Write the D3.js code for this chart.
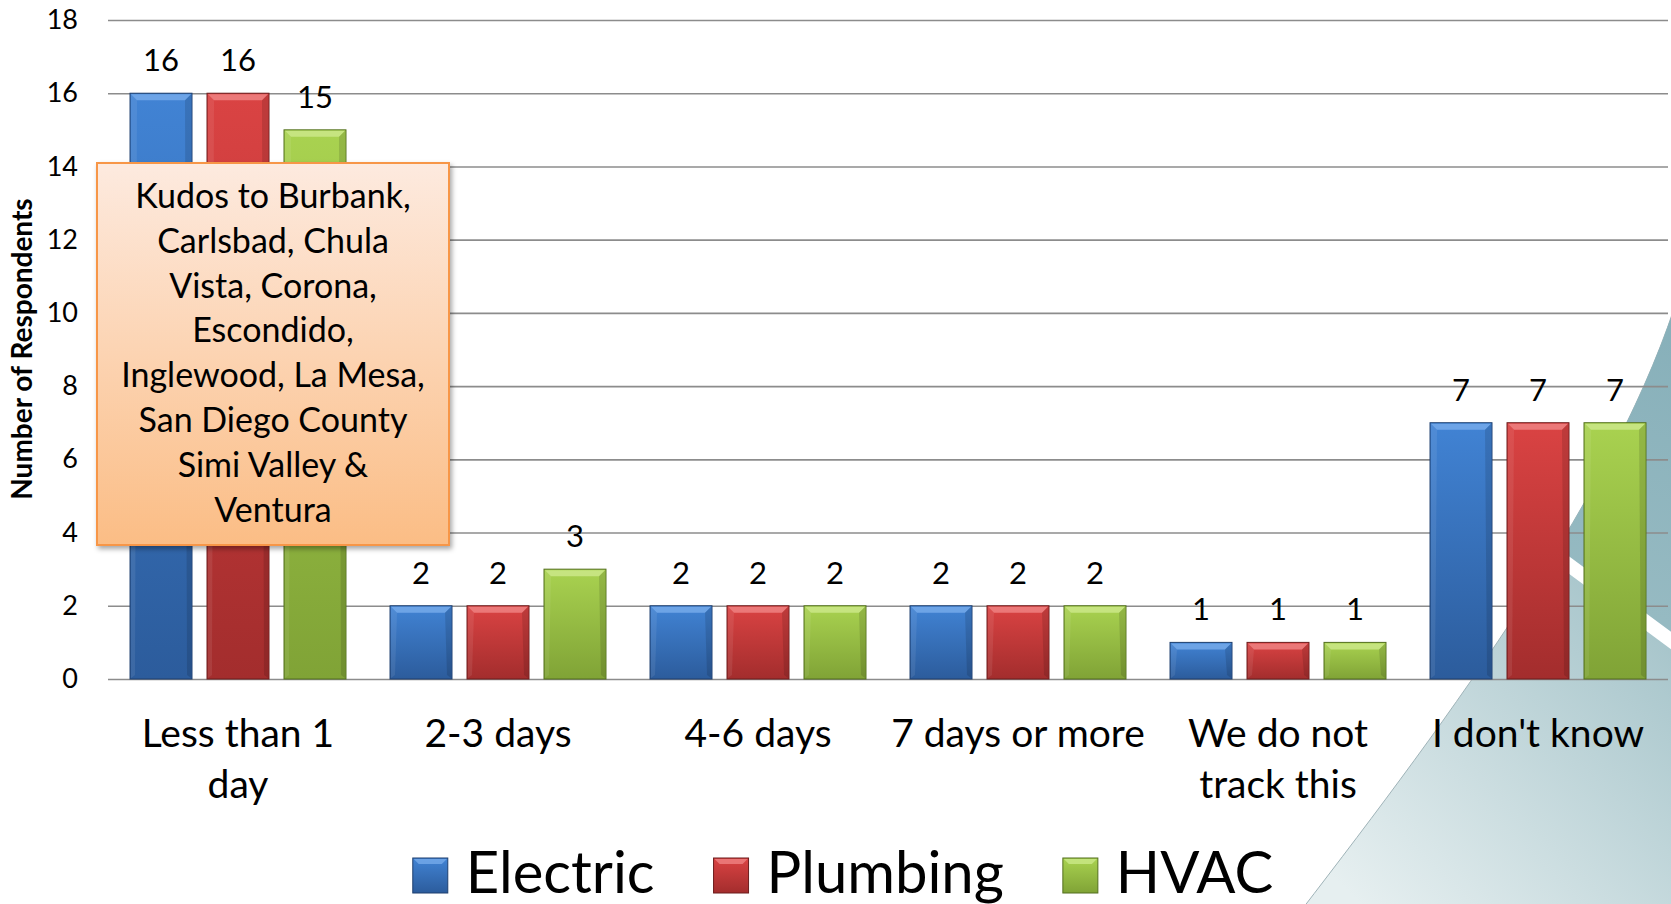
<!DOCTYPE html>
<html>
<head>
<meta charset="utf-8">
<script src="https://cdn.jsdelivr.net/npm/d3@7"></script>
<style>
  body { margin: 0; background: #fff; }
  svg { display: block; font-family: Lato, "Open Sans", sans-serif; }
</style>
</head>
<body>
<div class="bar-chart"></div>
<script>
// chart data
const categories = ["Less than 1 day", "2-3 days", "4-6 days", "7 days or more", "We do not track this", "I don't know"];
const categoryLines = [["Less than 1", "day"], ["2-3 days"], ["4-6 days"], ["7 days or more"], ["We do not", "track this"], ["I don't know"]];
const seriesNames = ["Electric", "Plumbing", "HVAC"];
const electric = [16, 2, 2, 2, 1, 7];
const plumbing = [16, 2, 2, 2, 1, 7];
const hvac = [15, 3, 2, 2, 1, 7];
const yTicks = [0, 2, 4, 6, 8, 10, 12, 14, 16, 18];
const noteLines = ["Kudos to Burbank,", "Carlsbad, Chula", "Vista, Corona,", "Escondido,", "Inglewood, La Mesa,", "San Diego County", "Simi Valley &", "Ventura"];

const seriesValues = { "Electric": electric, "Plumbing": plumbing, "HVAC": hvac };
const palette = {
  "Electric": { top: "#4183d4", bottom: "#2c5c9c", bevel: "#76aaea", stroke: "#1e3f6e" },
  "Plumbing": { top: "#da4343", bottom: "#a32d2d", bevel: "#ef8282", stroke: "#6c1d1d" },
  "HVAC": { top: "#a9d250", bottom: "#80a336", bevel: "#cbe888", stroke: "#536f1e" }
};

// set the dimensions and margins of the graph
const W = 1671, H = 904;
const margin = { top: 20, right: 3, bottom: 225, left: 108 };

const svg = d3.select(".bar-chart")
  .append("svg")
  .attr("width", W)
  .attr("height", H);

const defs = svg.append("defs");

// gradients for bars
seriesNames.forEach(function (s, i) {
  const g = defs.append("linearGradient")
    .attr("id", "grad" + i)
    .attr("x1", 0).attr("y1", 0).attr("x2", 0).attr("y2", 1);
  g.append("stop").attr("offset", "0%").attr("stop-color", palette[s].top);
  g.append("stop").attr("offset", "100%").attr("stop-color", palette[s].bottom);
});

const noteGrad = defs.append("linearGradient")
  .attr("id", "noteGrad")
  .attr("x1", 0).attr("y1", 0).attr("x2", 0).attr("y2", 1);
noteGrad.append("stop").attr("offset", "0%").attr("stop-color", "#fdeadf");
noteGrad.append("stop").attr("offset", "100%").attr("stop-color", "#fbbd85");

const shadow = defs.append("filter").attr("id", "shadow")
  .attr("x", "-10%").attr("y", "-10%").attr("width", "130%").attr("height", "130%");
shadow.append("feDropShadow")
  .attr("dx", 2).attr("dy", 3).attr("stdDeviation", 2.5)
  .attr("flood-color", "#000").attr("flood-opacity", 0.35);

// background swoosh (slide decoration)
const swoosh = "M1300,912 C1450,717 1620,488 1680,290 L1700,250 L1700,930 L1290,930 Z";
defs.append("clipPath").attr("id", "swooshClip").append("path").attr("d", swoosh);
const lowGrad = defs.append("linearGradient")
  .attr("id", "lowGrad").attr("gradientUnits", "userSpaceOnUse")
  .attr("x1", 1660).attr("y1", 600).attr("x2", 1360).attr("y2", 904);
lowGrad.append("stop").attr("offset", "0%").attr("stop-color", "#a4c3c9");
lowGrad.append("stop").attr("offset", "100%").attr("stop-color", "#e6eff0");
const upGrad = defs.append("linearGradient")
  .attr("id", "upGrad").attr("gradientUnits", "userSpaceOnUse")
  .attr("x1", 1671).attr("y1", 300).attr("x2", 1560).attr("y2", 580);
upGrad.append("stop").attr("offset", "0%").attr("stop-color", "#86afb9");
upGrad.append("stop").attr("offset", "100%").attr("stop-color", "#96bac2");

const bg = svg.append("g");
bg.append("path").attr("d", swoosh).attr("fill", "url(#lowGrad)")
  .attr("stroke", "#9fb3b8").attr("stroke-width", 1);
const clipped = bg.append("g").attr("clip-path", "url(#swooshClip)");
clipped.append("path")
  .attr("d", "M1400,440 L1700,662 L1700,200 L1400,200 Z")
  .attr("fill", "url(#upGrad)");
clipped.append("line")
  .attr("x1", 1400).attr("y1", 440).attr("x2", 1700).attr("y2", 662)
  .attr("stroke", "#fff").attr("stroke-width", 14);

// scales
const x0 = d3.scaleBand()
  .domain(categories)
  .range([margin.left, W - margin.right]);
const x1 = d3.scaleBand()
  .domain(seriesNames)
  .range([0, x0.bandwidth()])
  .paddingInner(0.195)
  .paddingOuter(0.286);
const y = d3.scaleLinear()
  .domain([0, 18])
  .range([H - margin.bottom, margin.top]);

// Y axis with gridlines
const yAxis = svg.append("g")
  .attr("transform", `translate(${margin.left},0)`)
  .call(d3.axisLeft(y).tickValues(yTicks).tickSize(-(W - margin.left - margin.right)).tickPadding(30));
yAxis.select(".domain").remove();
yAxis.selectAll(".tick line")
  .attr("stroke", "#8c8c8c")
  .attr("stroke-width", 1.6);
yAxis.selectAll(".tick text")
  .attr("fill", "#000")
  .style("font-size", "27px")
  .style("font-family", "Lato, sans-serif");

// Y axis title
svg.append("text")
  .attr("transform", "translate(32,349) rotate(-90)")
  .attr("text-anchor", "middle")
  .style("font-size", "28px")
  .style("font-weight", "bold")
  .text("Number of Respondents");

// bars
const bw = x1.bandwidth();
const bevel = 7;
const groups = svg.selectAll(".group")
  .data(categories)
  .join("g")
  .attr("class", "group")
  .attr("transform", d => `translate(${x0(d)},0)`);

const bars = groups.selectAll(".bar")
  .data((c, ci) => seriesNames.map((s, si) => ({ cat: c, series: s, si: si, value: seriesValues[s][ci] })))
  .join("g")
  .attr("class", "bar");

bars.append("rect")
  .attr("x", d => x1(d.series))
  .attr("y", d => y(d.value))
  .attr("width", bw)
  .attr("height", d => y(0) - y(d.value))
  .attr("fill", d => `url(#grad${d.si})`)
  .attr("stroke", d => palette[d.series].stroke)
  .attr("stroke-width", 1);

// bevel highlight on top
bars.append("path")
  .attr("d", function (d) {
    const bx = x1(d.series), by = y(d.value);
    return `M${bx + 1},${by + 1} L${bx + bw - 1},${by + 1} L${bx + bw - bevel},${by + bevel} L${bx + bevel},${by + bevel} Z`;
  })
  .attr("fill", d => palette[d.series].bevel)
  .attr("opacity", 0.85);
// darker side edges
bars.append("path")
  .attr("d", function (d) {
    const bx = x1(d.series), by = y(d.value), b0 = y(0);
    return `M${bx + bw - 1},${by + 1} L${bx + bw - 1},${b0 - 1} L${bx + bw - 5},${b0 - 4} L${bx + bw - bevel},${by + bevel} Z`;
  })
  .attr("fill", "#000")
  .attr("opacity", 0.12);
bars.append("path")
  .attr("d", function (d) {
    const bx = x1(d.series), by = y(d.value), b0 = y(0);
    return `M${bx + 1},${by + 1} L${bx + 1},${b0 - 1} L${bx + 5},${b0 - 4} L${bx + bevel},${by + bevel} Z`;
  })
  .attr("fill", "#fff")
  .attr("opacity", 0.08);

// value labels
bars.append("text")
  .attr("x", d => x1(d.series) + bw / 2)
  .attr("y", d => y(d.value) - 22)
  .attr("text-anchor", "middle")
  .style("font-size", "31px")
  .text(d => d.value);

// category labels
groups.each(function (c, ci) {
  const t = d3.select(this).append("text")
    .attr("text-anchor", "middle")
    .style("font-size", "39px");
  categoryLines[ci].forEach(function (line, li) {
    t.append("tspan")
      .attr("x", x0.bandwidth() / 2)
      .attr("y", 747 + li * 51)
      .text(line);
  });
});

// annotation box
const note = svg.append("g");
note.append("rect")
  .attr("x", 97).attr("y", 163)
  .attr("width", 352).attr("height", 382)
  .attr("fill", "url(#noteGrad)")
  .attr("stroke", "#f79646")
  .attr("stroke-width", 2)
  .attr("filter", "url(#shadow)");
note.selectAll("text")
  .data(noteLines)
  .join("text")
  .attr("x", 273)
  .attr("y", (d, i) => 208 + i * 44.8)
  .attr("text-anchor", "middle")
  .style("font-size", "34px")
  .text(d => d);

// legend
const legend = svg.append("g");
const items = legend.selectAll(".item")
  .data(seriesNames)
  .join("g")
  .attr("class", "item");
items.append("rect")
  .attr("width", 35).attr("height", 35)
  .attr("y", 858)
  .attr("fill", (d, i) => `url(#grad${i})`)
  .attr("stroke", d => palette[d].stroke)
  .attr("stroke-width", 1);
items.append("path")
  .attr("d", "M1,859 L34,859 L29,864 L6,864 Z")
  .attr("fill", d => palette[d].bevel)
  .attr("opacity", 0.8);
items.append("text")
  .attr("x", 53)
  .attr("y", 893)
  .style("font-size", "58px")
  .text(d => d);

let lx = 0;
const offsets = [];
items.each(function () {
  offsets.push(lx);
  lx += 53 + this.querySelector("text").getComputedTextLength() + 59;
});
const legendWidth = lx - 59;
const legendStart = 843 - legendWidth / 2;
items.attr("transform", (d, i) => `translate(${legendStart + offsets[i]},0)`);
</script>
</body>
</html>
